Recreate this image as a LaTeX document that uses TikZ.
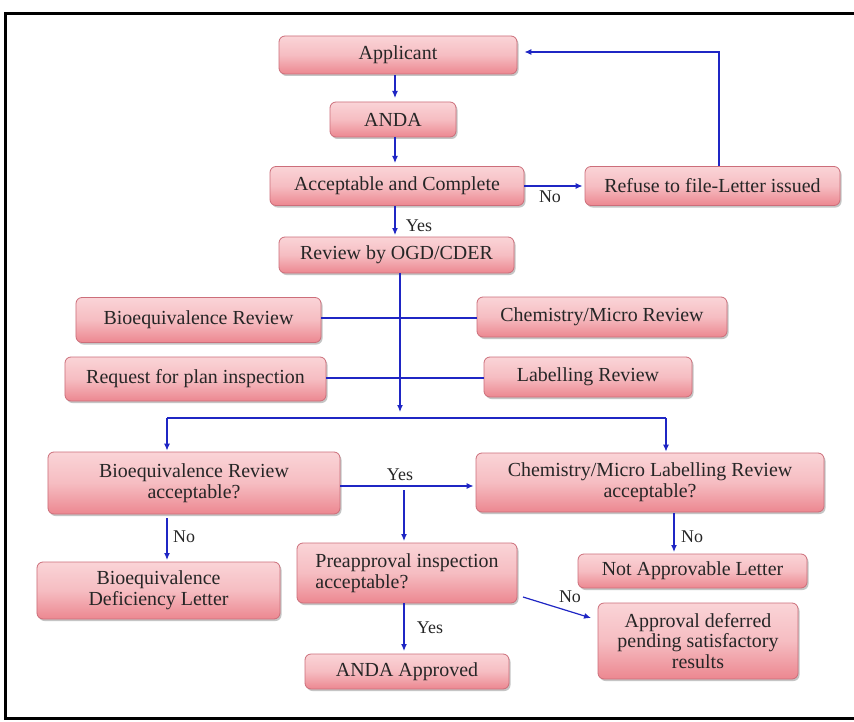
\documentclass[tikz,border=0pt]{standalone}
\usepackage{fontspec}
\setmainfont{Liberation Serif}
\usetikzlibrary{arrows.meta,shadows,positioning}
\definecolor{boxtop}{HTML}{FAD4D7}
\definecolor{boxbot}{HTML}{EC8790}
\definecolor{boxline}{HTML}{CC6E7A}
\definecolor{arrowblue}{HTML}{1F26C4}
\definecolor{txt}{HTML}{262626}
\begin{document}
\begin{tikzpicture}[x=1bp,y=-1bp,
  box/.style={draw=boxline, line width=0.8bp, rounded corners=6bp,
    top color=boxtop, bottom color=boxbot, middle color=boxtop!70!boxbot,
    drop shadow={shadow xshift=1.5bp, shadow yshift=-2bp, fill=black!45, opacity=0.5},
    text=txt, font=\fontsize{20}{21}\selectfont, align=center, inner sep=1bp},
  conn/.style={draw=arrowblue, line width=1.2bp},
  arr/.style={conn, -{Latex[length=7bp,width=6bp]}},
  lbl/.style={text=txt, font=\fontsize{18}{20}\selectfont, inner sep=1bp}]
\useasboundingbox (0,0) rectangle (854,722);
\fill[white] (0,0) rectangle (854,722);
\draw[line width=3bp, black] (5,14) rectangle (880,718);

% nodes
\node[box, minimum width=238bp, minimum height=38bp] (app) at (398,55) {Applicant};
\node[box, minimum width=126bp, minimum height=35bp] (anda) at (393,119.5) {ANDA};
\node[box, minimum width=254bp, minimum height=39bp] (acc) at (397,186) {Acceptable and Complete};
\node[box, minimum width=255bp, minimum height=39bp] (ref) at (712.5,186) {Refuse to file-Letter issued};
\node[box, minimum width=235bp, minimum height=36bp] (rev) at (396.5,255) {Review by OGD/CDER};
\node[box, minimum width=245bp, minimum height=45bp] (bio) at (198.5,320) {Bioequivalence Review};
\node[box, minimum width=250bp, minimum height=40bp] (chem) at (602,317) {Chemistry/Micro Review};
\node[box, minimum width=261bp, minimum height=44bp] (req) at (195.5,379) {Request for plan inspection};
\node[box, minimum width=208bp, minimum height=40bp] (lab) at (588,377) {Labelling Review};
\node[box, minimum width=292bp, minimum height=62bp] (bioacc) at (194,483) {Bioequivalence Review\\acceptable?};
\node[box, minimum width=348bp, minimum height=59bp] (chemacc) at (650,482.5) {Chemistry/Micro Labelling Review\\acceptable?};
\node[box, minimum width=243bp, minimum height=57bp] (biodef) at (158.5,590.5) {Bioequivalence\\Deficiency Letter};
\node[box, minimum width=220bp, minimum height=60bp, align=left] (pre) at (407,573) {Preapproval inspection\\acceptable?};
\node[box, minimum width=229bp, minimum height=34bp] (notapp) at (692.5,571) {Not Approvable Letter};
\node[box, minimum width=200bp, minimum height=76bp] (defer) at (698,641) {Approval deferred\\pending satisfactory\\results};
\node[box, minimum width=204bp, minimum height=35bp] (approved) at (407,671.5) {ANDA Approved};

% coordinates
\coordinate (fb) at (719,52);
\coordinate (split) at (400,418);
\coordinate (splitL) at (167,418);
\coordinate (splitR) at (666,418);
\coordinate (yesmid) at (404,486);

% connectors
\draw[arr, shorten >=4bp, shorten <=1bp] (app.south -| 395,0) -- (395,102);
\draw[arr, shorten >=4bp] (anda.south -| 395,0) -- (395,167);
\draw[arr, shorten >=2bp] (acc.east) -- (ref.west);
\node[lbl] at (550,197) {No};
\draw[arr, shorten >=2bp] (acc.south -| 395,0) -- (395,237);
\node[lbl] at (419,226) {Yes};
\draw[arr, shorten >=7bp] (ref.north -| fb) -- (fb) -- (app.east |- fb);
\draw[conn] (bio.east |- 0,318) -- (chem.west |- 0,318);
\draw[conn] (req.east |- 0,378) -- (lab.west |- 0,378);
\draw[arr] (rev.south -| split) -- (400,412);
\draw[conn] (splitL) -- (splitR);
\draw[arr, shorten >=1bp] (splitL) -- (splitL |- bioacc.north);
\draw[arr, shorten >=1bp] (splitR) -- (splitR |- chemacc.north);
\draw[arr, shorten >=2bp] (bioacc.east |- yesmid) -- (chemacc.west |- yesmid);
\node[lbl] at (400,475) {Yes};
\draw[arr, shorten >=2bp] (404,490) -- (404 ,543) ;
\draw[arr, shorten <=4bp, shorten >=2bp] (bioacc.south -| 167,0) -- (167,562);
\node[lbl, anchor=west] at (172,537) {No};
\draw[arr, shorten <=1bp, shorten >=2bp] (chemacc.south -| 674,0) -- (674,554);
\node[lbl, anchor=west] at (680,537) {No};
\draw[arr] (523,597) -- (591,618);
\node[lbl] at (570,597) {No};
\draw[arr, shorten >=3bp] (pre.south -| 404,0) -- (404,654);
\node[lbl] at (430,628) {Yes};
\end{tikzpicture}
\end{document}
